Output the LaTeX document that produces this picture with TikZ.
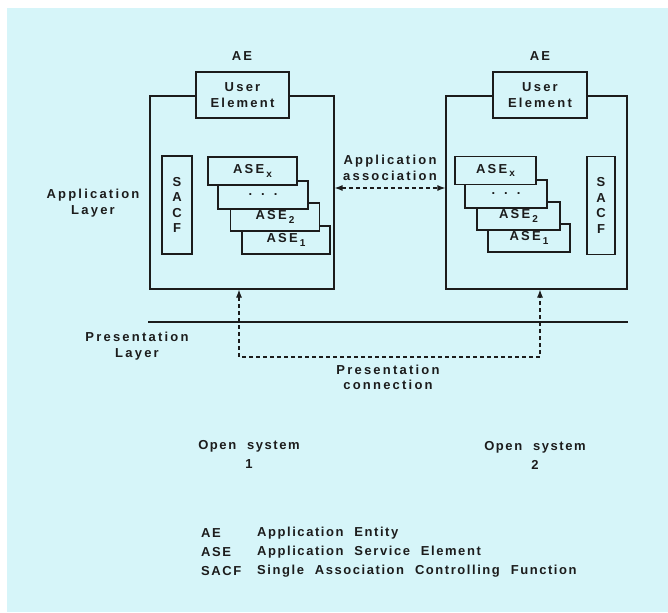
\documentclass[tikz,border=0pt]{standalone}
\usepackage{fontspec}
\newfontfamily\upfont[LetterSpace=17,WordSpace=2]{Liberation Sans}
\newfontfamily\lowfont[LetterSpace=12,WordSpace=2.1]{Liberation Sans}
\usetikzlibrary{arrows.meta}
\definecolor{bgc}{RGB}{214,245,249}
\definecolor{ink}{RGB}{28,28,28}
\newcommand\asesub[1]{ASE\hspace{2pt}\raisebox{-0.45ex}{\fontsize{10}{10}\selectfont #1}}
\begin{document}
\begin{tikzpicture}[x=1pt,y=-1pt,
  every node/.style={font=\upfont\bfseries\fontsize{13}{15.5}\selectfont, text=ink, inner sep=0pt},
  lowtxt/.style={font=\lowfont\bfseries\fontsize{13}{19}\selectfont},
  outerbox/.style={draw=ink, line width=1.1pt, minimum height=193pt},
  uebox/.style={draw=ink, fill=bgc, line width=1.8pt, minimum width=93pt, minimum height=46pt, align=center},
  sacfbox/.style={draw=ink, fill=bgc, line width=1.8pt, minimum width=29pt, minimum height=98pt, align=center},
  asebox/.style={draw=ink, fill=bgc, line width=1.6pt, minimum height=28pt},
  lbl/.style={align=center},
  dashln/.style={draw=ink, dash pattern=on 4pt off 3pt},
  bothtips/.style={{Latex[length=8pt,width=6pt]}-{Latex[length=8pt,width=6pt]}}
]
\useasboundingbox (0,0) rectangle (668,612);
\fill[white] (0,0) rectangle (668,612);
\fill[bgc] (7,8) rectangle (668,612);

% outer AE boxes
\node[outerbox, minimum width=184pt] (lbox) at (242,192.5) {};
\node[outerbox, minimum width=181pt] (rbox) at (536.5,192.5) {};

% AE labels
\node (ael) at (242,56) {AE};
\node (aer) at (540,56) {AE};

% user elements
\node[uebox] (uel) at (242.5,95) {User\\Element};
\node[uebox, minimum width=94pt] (uer) at (540,95) {User\\Element};

% SACF
\node[sacfbox, minimum width=30pt] (sacfl) at (177,205) {S\\A\\C\\F};
\node[sacfbox, minimum width=28pt] (sacfr) at (601,205.5) {S\\A\\C\\F};

% left ASE stack (bottom first)
\node[asebox, minimum width=88pt] (l1) at (286,240) {\asesub{1}};
\node[asebox, minimum width=89pt] (l2) at (275,217) {\asesub{2}};
\node[asebox, minimum width=90pt] (ld) at (263,195) {.\hspace{9pt}.\hspace{9pt}.};
\node[asebox, minimum width=89pt] (lx) at (252.5,171) {\asesub{x}};

% right ASE stack
\node[asebox, minimum width=82pt] (r1) at (529,238) {\asesub{1}};
\node[asebox, minimum width=83pt] (r2) at (518.5,216) {\asesub{2}};
\node[asebox, minimum width=82pt] (rd) at (506,194) {.\hspace{9pt}.\hspace{9pt}.};
\node[asebox, minimum width=81pt] (rx) at (495.5,170.5) {\asesub{x}};

% layer labels
\node[lbl] (applayer) at (93,203) {Application\\Layer};
\node[lbl] (preslayer) at (137,346) {Presentation\\Layer};

% application association
\node[lbl] (aalbl) at (390,168) {Application\\association};
\coordinate (aay) at (390,188);
\draw[dashln, line width=1.3pt, bothtips]
  (lbox.east |- aay) -- (rbox.west |- aay);

% presentation layer line
\coordinate (pl1) at (148,322);
\coordinate (pl2) at (628,322);
\draw[ink, line width=1.5pt] (pl1) -- (pl2);

% presentation connection
\coordinate (lc) at (239,357);
\coordinate (rc) at (540,357);
\draw[dashln, line width=1.1pt, bothtips]
  (lc |- lbox.south) -- (lc) -- (rc) -- (rc |- rbox.south);
\node[lbl] (pclbl) at (388,377.5) {Presentation\\connection};

% open systems
\node[lbl, lowtxt] (os1) at (249,454.5) {Open system\\1};
\node[lbl, lowtxt] (os2) at (535,455.5) {Open system\\2};

% legend
\node[anchor=west, lowtxt] (k1) at (201,533) {AE};
\node[anchor=west, lowtxt] (k2) at (201,552) {ASE};
\node[anchor=west, lowtxt] (k3) at (201,571) {SACF};
\node[anchor=west, lowtxt] (d1) at (257,533) {Application Entity};
\node[anchor=west, lowtxt] (d2) at (257,552) {Application Service Element};
\node[anchor=west, lowtxt] (d3) at (257,571) {Single Association Controlling Function};
\end{tikzpicture}
\end{document}
